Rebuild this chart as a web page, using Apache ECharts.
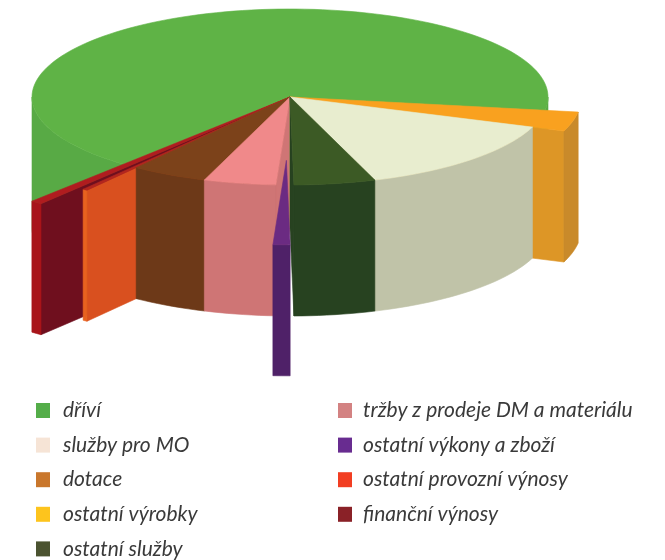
<!DOCTYPE html>
<html>
<head>
<meta charset="utf-8">
<style>html,body{margin:0;padding:0;background:#fff}#c{width:665px;height:560px}</style>
<script src="https://cdn.jsdelivr.net/npm/echarts@6/dist/echarts.min.js"></script>
</head>
<body>
<div id="c"></div>
<script>
// Data (share of revenue, %)
const categories = ['dříví','služby pro MO','dotace','ostatní výrobky','ostatní služby','tržby z prodeje DM a materiálu','ostatní výkony a zboží','ostatní provozní výnosy','finanční výnosy'];
const shares = [66.25,14.11,4.78,3.14,5.09,4.52,1.11,0.53,0.47];
// Clockwise order round the pie, and the order slices are painted (back to front)
const pieOrder = [3,1,4,6,5,2,7,8,0];
const paintOrder = [0,8,7,2,5,3,1,4,6];
const legendLeft = categories.slice(0,5);
const legendRight = categories.slice(5);

// Styles
const legendColors = ['#54ad49','#f6e4d6','#c9772c','#fdc41d','#4b5330','#d38282','#682c90','#f23e22','#8a2127'];
const topColors  = ['#5fb346','#e8edcf','#7c421a','#f9a11f','#3c5a25','#f0898a','#6b2b82','#b3261e','#b01c1f'];
const wallColors = ['#58aa45','#c0c3a8','#6d3918','#c98a2a','#274220','#cf7575','#4f2168','#e8621f','#a8141a'];
const faceColors = ['#58aa45','#c0c3a8','#6d3918','#dd9626','#274220','#cf7575','#4f2168','#d9501f','#6f0f1e'];
const radiusScale = [1,1,1,1.13,1,1,0.96,1.32,1.55];
const explode = [0,0,0,0,0,0,0.72,0,0];
const endTrim = [0,0,0,0,0,0,0,1.1,0];

// Pie geometry
const cx=290, cy=97, rx=258, ry=88, depth=131, startAngle=8.7;
const D=Math.PI/180;
const spans={}; 
(function(){let a=startAngle;const tot=shares.reduce((s,v)=>s+v,0);
  pieOrder.forEach(i=>{const sw=shares[i]/tot*360;spans[i]=[a,a+sw-endTrim[i]];a+=sw;});})();

function renderSlice(i){
  const [a0,a1]=spans[i], r=radiusScale[i], mid=(a0+a1)/2;
  const ox=cx+rx*explode[i]*Math.cos(mid*D), oy=cy+ry*explode[i]*Math.sin(mid*D);
  const pt=(a,dz)=>[ox+rx*r*Math.cos(a*D), oy+ry*r*Math.sin(a*D)+(dz||0)];
  const arc=(s,e)=>{const n=Math.max(2,Math.ceil((e-s)/2));const p=[];for(let k=0;k<=n;k++)p.push(s+(e-s)*k/n);return p;};
  const poly=(pts,color)=>({type:'polygon',shape:{points:pts},style:{fill:color,stroke:color,lineWidth:0.6}});
  const ch=[];
  // radial faces that turn toward the viewer
  const face=(a)=>poly([[ox,oy],pt(a),pt(a,depth),[ox,oy+depth]],faceColors[i]);
  if(Math.cos(a0*D)<0) ch.push(face(a0));
  if(Math.cos(a1*D)>0) ch.push(face(a1));
  // curved outer wall, front half only
  for(let k=0;k<=1;k++){
    const s=Math.max(a0,360*k), e=Math.min(a1,360*k+180);
    if(e>s){
      const as=arc(s,e);
      ch.push(poly(as.map(a=>pt(a)).concat(as.slice().reverse().map(a=>pt(a,depth))),wallColors[i]));
    }
  }
  // top surface
  ch.push(poly([[ox,oy]].concat(arc(a0,a1).map(a=>pt(a))),topColors[i]));
  return {type:'group',children:ch};
}

const series=paintOrder.map(i=>({
  type:'custom',
  name:categories[i],
  coordinateSystem:'none',
  silent:true,
  itemStyle:{color:legendColors[i]},
  data:[shares[i]],
  renderItem:()=>renderSlice(i)
}));

const legendText=(pad)=>({fontFamily:'Lato',fontStyle:'italic',fontSize:21,color:'#3a3a3a',padding:[0,0,0,pad],height:19.5,lineHeight:19.5});
const legendBase={orient:'vertical',icon:'rect',itemWidth:14,itemHeight:15,itemGap:13.6,selectedMode:false,padding:0};
const chart=echarts.init(document.getElementById('c'),null,{renderer:'canvas'});
chart.setOption({
  animation:false,
  backgroundColor:'#fff',
  legend:[
    Object.assign({},legendBase,{left:36,top:400,data:legendLeft,textStyle:legendText(8)}),
    Object.assign({},legendBase,{left:338,top:400,data:legendRight,textStyle:legendText(6)})
  ],
  series:series
});
</script>
</body>
</html>
